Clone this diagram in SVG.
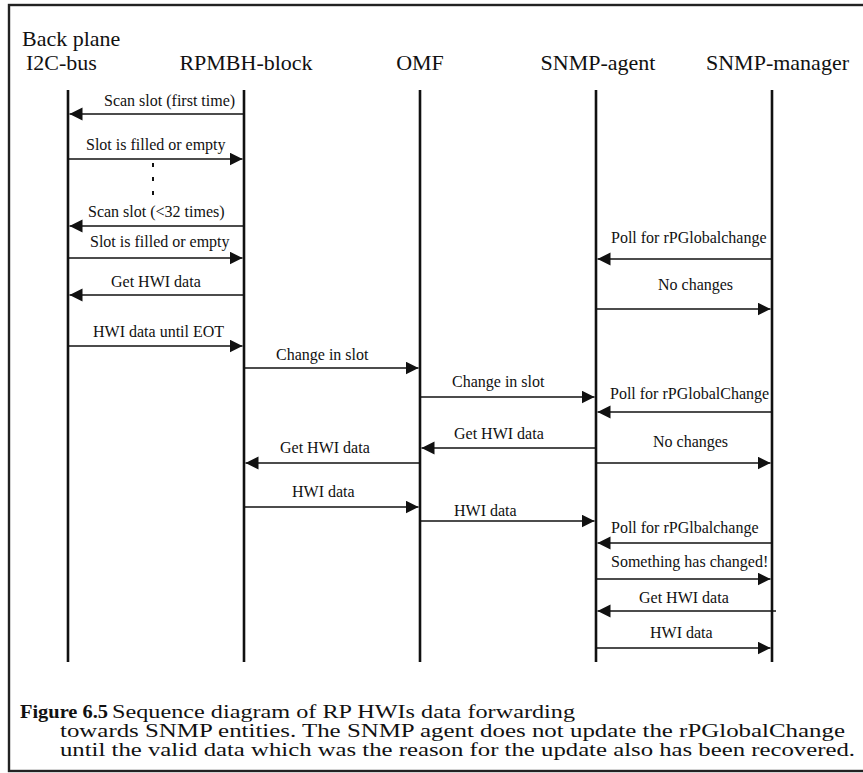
<svg xmlns="http://www.w3.org/2000/svg" width="863" height="773" viewBox="0 0 863 773">
  <style>
    .head { font-family: "Liberation Serif", "Times New Roman", serif; font-size: 22px; fill: #111; }
    .lbl { font-family: "Liberation Serif", "Times New Roman", serif; font-size: 16px; fill: #111; }
    .cap { font-family: "Liberation Serif", "Times New Roman", serif; font-size: 18.5px; fill: #111; }
    .capb { font-family: "Liberation Serif", "Times New Roman", serif; font-size: 18.5px; font-weight: bold; fill: #111; }
    .life { stroke: #111; stroke-width: 2.6; fill: none; }
    .msg { stroke: #111; stroke-width: 1.6; fill: none; marker-end: url(#head); }
  </style>
  <defs>
    <marker id="head" markerUnits="userSpaceOnUse" markerWidth="14" markerHeight="14" refX="13" refY="6.5" orient="auto">
      <path d="M0,0 L13,6.5 L0,13 z" fill="#111"/>
    </marker>
  </defs>

  <rect x="0" y="0" width="863" height="773" fill="#fff"/>
  <!-- outer frame -->
  <rect x="9" y="5" width="870" height="766" fill="none" stroke="#222" stroke-width="2.4"/>

  <!-- participants -->
  <g id="i2c-bus">
    <text class="head" x="22" y="46">Back plane</text>
    <text class="head" x="26" y="70">I2C-bus</text>
    <line class="life" x1="68" y1="90" x2="68" y2="662"/>
  </g>
  <g id="rpmbh-block">
    <text class="head" x="246" y="70" text-anchor="middle">RPMBH-block</text>
    <line class="life" x1="244" y1="90" x2="244" y2="662"/>
  </g>
  <g id="omf">
    <text class="head" x="420" y="70" text-anchor="middle">OMF</text>
    <line class="life" x1="420" y1="90" x2="420" y2="662"/>
  </g>
  <g id="snmp-agent">
    <text class="head" x="598" y="70" text-anchor="middle">SNMP-agent</text>
    <line class="life" x1="596" y1="90" x2="596" y2="662"/>
  </g>
  <g id="snmp-manager">
    <text class="head" x="706" y="70">SNMP-manager</text>
    <line class="life" x1="772" y1="90" x2="772" y2="662"/>
  </g>

  <!-- messages -->
  <g id="connectors">
    <line class="msg" x1="244" y1="114" x2="69.5" y2="114"/>
    <line class="msg" x1="68" y1="159" x2="242.5" y2="159"/>
    <line x1="153" y1="163" x2="153" y2="197" stroke="#111" stroke-width="2" stroke-dasharray="4 10"/>
    <line class="msg" x1="244" y1="226" x2="69.5" y2="226"/>
    <line class="msg" x1="68" y1="258" x2="242.5" y2="258"/>
    <line class="msg" x1="244" y1="295" x2="69.5" y2="295"/>
    <line class="msg" x1="68" y1="346" x2="242.5" y2="346"/>
    <line class="msg" x1="244" y1="368" x2="418.5" y2="368"/>
    <line class="msg" x1="420" y1="397" x2="594.5" y2="397"/>
    <line class="msg" x1="596" y1="448" x2="421.5" y2="448"/>
    <line class="msg" x1="420" y1="463" x2="245.5" y2="463"/>
    <line class="msg" x1="244" y1="507" x2="418.5" y2="507"/>
    <line class="msg" x1="420" y1="521" x2="594.5" y2="521"/>

    <line class="msg" x1="772" y1="259" x2="597.5" y2="259"/>
    <line class="msg" x1="596" y1="309" x2="770.5" y2="309"/>
    <line class="msg" x1="772" y1="412" x2="597.5" y2="412"/>
    <line class="msg" x1="596" y1="463" x2="770.5" y2="463"/>
    <line class="msg" x1="772" y1="543" x2="597.5" y2="543"/>
    <line class="msg" x1="596" y1="579" x2="770.5" y2="579"/>
    <line class="msg" x1="776" y1="611" x2="597.5" y2="611"/>
    <line class="msg" x1="596" y1="648" x2="770.5" y2="648"/>
  </g>

  <!-- message labels -->
  <g id="labels">
    <text class="lbl" x="104" y="106">Scan slot (first time)</text>
    <text class="lbl" x="86" y="150">Slot is filled or empty</text>
    <text class="lbl" x="88" y="217">Scan slot (&lt;32 times)</text>
    <text class="lbl" x="90" y="247">Slot is filled or empty</text>
    <text class="lbl" x="111" y="287">Get HWI data</text>
    <text class="lbl" x="93" y="337">HWI data until EOT</text>
    <text class="lbl" x="276" y="360">Change in slot</text>
    <text class="lbl" x="452" y="387">Change in slot</text>
    <text class="lbl" x="454" y="439">Get HWI data</text>
    <text class="lbl" x="280" y="453">Get HWI data</text>
    <text class="lbl" x="292" y="497">HWI data</text>
    <text class="lbl" x="454" y="516">HWI data</text>

    <text class="lbl" x="611" y="243">Poll for rPGlobalchange</text>
    <text class="lbl" x="658" y="290">No changes</text>
    <text class="lbl" x="610" y="399">Poll for rPGlobalChange</text>
    <text class="lbl" x="653" y="447">No changes</text>
    <text class="lbl" x="611" y="533">Poll for rPGlbalchange</text>
    <text class="lbl" x="611" y="567">Something has changed!</text>
    <text class="lbl" x="639" y="603">Get HWI data</text>
    <text class="lbl" x="650" y="638">HWI data</text>
  </g>

  <!-- caption -->
  <g id="caption">
    <text class="capb" x="20" y="718" textLength="88" lengthAdjust="spacingAndGlyphs">Figure 6.5</text>
    <text class="cap" x="112" y="718" textLength="463" lengthAdjust="spacingAndGlyphs">Sequence diagram of RP HWIs data forwarding</text>
    <text class="cap" x="60" y="737" textLength="785" lengthAdjust="spacingAndGlyphs">towards SNMP entities. The SNMP agent does not update the rPGlobalChange</text>
    <text class="cap" x="60" y="756" textLength="795" lengthAdjust="spacingAndGlyphs">until the valid data which was the reason for the update also has been recovered.</text>
  </g>
</svg>
